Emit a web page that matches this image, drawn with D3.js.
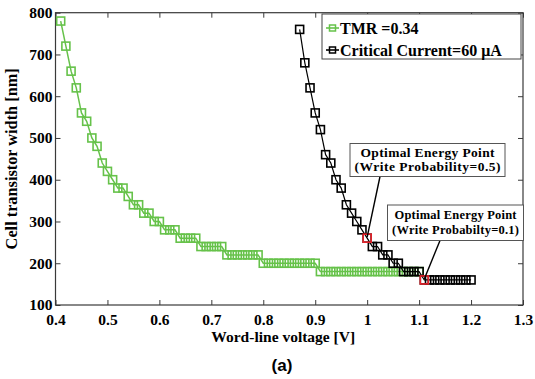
<!DOCTYPE html>
<html><head><meta charset="utf-8">
<script src="https://cdn.jsdelivr.net/npm/d3@7/dist/d3.min.js"></script>
<style>
html,body{margin:0;padding:0;background:#fff;}
svg{display:block;}
text{font-family:"Liberation Serif","Times New Roman",serif;font-weight:bold;fill:#000;}
</style></head>
<body>
<svg id="chart" width="535" height="379"></svg>
<script>
// ---- data ----
const tmrVoltage = [0.41,0.42,0.43,0.44,0.45,0.46,0.47,0.48,0.49,0.50,
  0.51,0.52,0.53,0.54,0.55,0.56,0.57,0.58,0.59,0.60,
  0.61,0.62,0.63,0.64,0.65,0.66,0.67,0.68,0.69,0.70,
  0.71,0.72,0.73,0.74,0.75,0.76,0.77,0.78,0.79,0.80,
  0.81,0.82,0.83,0.84,0.85,0.86,0.87,0.88,0.89,0.90,
  0.91,0.92,0.93,0.94,0.95,0.96,0.97,0.98,0.99,1.00,
  1.01,1.02,1.03,1.04,1.05,1.06,1.07,1.08,1.09,1.10];
const tmrWidth = [780,720,660,620,560,540,500,480,440,420,
  400,380,380,360,340,340,320,320,300,300,
  280,280,280,260,260,260,260,240,240,240,
  240,240,220,220,220,220,220,220,220,200,
  200,200,200,200,200,200,200,200,200,200,
  180,180,180,180,180,180,180,180,180,180,
  180,180,180,180,180,180,180,180,180,180];
const icVoltage = [0.87,0.88,0.89,0.90,0.91,0.92,0.93,0.94,0.95,0.96,
  0.97,0.98,0.99,1.00,1.01,1.02,1.03,1.04,1.05,1.06,
  1.07,1.08,1.09,1.10,1.11,1.12,1.13,1.14,1.15,1.16,
  1.17,1.18,1.19,1.20];
const icWidth = [760,680,620,560,520,460,440,400,380,340,
  320,300,280,260,240,240,220,220,200,200,
  180,180,180,180,160,160,160,160,160,160,
  160,160,160,160];
const optimalVoltage = [1.00, 1.11];
const optimalWidth = [260, 160];
const optimalLine1 = ["Optimal Energy Point", "Optimal Energy Point"];
const optimalLine2 = ["(Write Probability=0.5)", "(Write Probabilty=0.1)"];
const seriesNames = ["TMR =0.34", "Critical Current=60 \u03BCA"];
const xTicks = [0.4,0.5,0.6,0.7,0.8,0.9,1.0,1.1,1.2,1.3];
const yTicks = [100,200,300,400,500,600,700,800];
const xTitle = "Word-line voltage [V]";
const yTitle = "Cell transistor width [nm]";
const caption = "(a)";

// ---- drawing ----
const svg = d3.select("#chart");
const L = 55.5, R = 523, T = 12.7, B = 305;
const x = d3.scaleLinear().domain([0.4,1.3]).range([L,R]);
const y = d3.scaleLinear().domain([100,800]).range([B,T]);
const green = "#66c24a", red = "#e8222a", frameCol = "#3a3a3a";
const fmtX = d => (d === 1 ? "1" : d3.format(".1f")(d));

// axes
const gx = svg.append("g").attr("transform",`translate(0,${B})`)
  .call(d3.axisBottom(x).tickValues(xTicks).tickFormat(fmtX).tickSizeInner(-5).tickSizeOuter(0).tickPadding(9));
const gxt = svg.append("g").attr("transform",`translate(0,${T})`)
  .call(d3.axisTop(x).tickValues(xTicks).tickFormat("").tickSizeInner(-5).tickSizeOuter(0));
const gy = svg.append("g").attr("transform",`translate(${L},0)`)
  .call(d3.axisLeft(y).tickValues(yTicks).tickFormat(d3.format("d")).tickSizeInner(-5).tickSizeOuter(0).tickPadding(3));
const gyr = svg.append("g").attr("transform",`translate(${R},0)`)
  .call(d3.axisRight(y).tickValues(yTicks).tickFormat("").tickSizeInner(-5).tickSizeOuter(0));
[gx,gxt,gy,gyr].forEach(g=>{
  g.select(".domain").remove();
  g.selectAll(".tick line").attr("stroke",frameCol);
  g.selectAll("text").attr("font-size",15.5).attr("font-family","Liberation Serif").attr("font-weight","bold").attr("fill","#000");
});
svg.append("rect").attr("x",L).attr("y",T).attr("width",R-L).attr("height",B-T)
  .attr("fill","none").attr("stroke",frameCol).attr("stroke-width",1.2);

// series
function drawSeries(xs, ys, color, sw){
  const pts = xs.map((v,i)=>[v, ys[i]]);
  const line = d3.line().x(d=>x(d[0])).y(d=>y(d[1]));
  svg.append("path").datum(pts).attr("d",line).attr("fill","none")
    .attr("stroke",color).attr("stroke-width",sw);
  svg.append("g").selectAll("rect").data(pts).join("rect")
    .attr("x",d=>x(d[0])-4).attr("y",d=>y(d[1])-4).attr("width",8).attr("height",8)
    .attr("fill","none").attr("stroke",color).attr("stroke-width",1.6);
}
drawSeries(tmrVoltage, tmrWidth, green, 1.5);
drawSeries(icVoltage, icWidth, "#000", 1.2);
svg.append("g").selectAll("rect").data(optimalVoltage).join("rect")
  .attr("x",(d)=>x(d)-4).attr("y",(d,i)=>y(optimalWidth[i])-4).attr("width",8).attr("height",8)
  .attr("fill","none").attr("stroke",red).attr("stroke-width",1.6);

// annotations
const ann = [
  {x0:350, y0:143.5, w:155, h:33, fs:13.5, b1:157, b2:170.5, w1:134, w2:146, lx:380, ly:176.5},
  {x0:387.5, y0:205, w:136, h:35.5, fs:12.5, b1:218.5, b2:234, w1:122, w2:127, lx:440, ly:240.5}
];
ann.forEach((a,i)=>{
  svg.append("line").attr("x1",a.lx).attr("y1",a.ly)
    .attr("x2",x(optimalVoltage[i])).attr("y2",y(optimalWidth[i])-1)
    .attr("stroke","#000").attr("stroke-width",1.4);
  svg.append("rect").attr("x",a.x0).attr("y",a.y0).attr("width",a.w).attr("height",a.h)
    .attr("fill","#fff").attr("stroke","#555").attr("stroke-width",1);
  svg.append("text").attr("x",a.x0+a.w/2).attr("y",a.b1).attr("text-anchor","middle")
    .attr("font-size",a.fs).attr("textLength",a.w1).attr("lengthAdjust","spacing").text(optimalLine1[i]);
  svg.append("text").attr("x",a.x0+a.w/2).attr("y",a.b2).attr("text-anchor","middle")
    .attr("font-size",a.fs).attr("textLength",a.w2).attr("lengthAdjust","spacing").text(optimalLine2[i]);
});

// legend
const lg = svg.append("g");
lg.append("rect").attr("x",322).attr("y",14).attr("width",199).attr("height",45)
  .attr("fill","#fff").attr("stroke","#444").attr("stroke-width",1);
[green,"#000"].forEach((c,i)=>{
  const cy = 28 + i*22;
  lg.append("line").attr("x1",326).attr("x2",339).attr("y1",cy).attr("y2",cy).attr("stroke",c).attr("stroke-width",1.6);
  lg.append("rect").attr("x",329.5).attr("y",cy-3).attr("width",6).attr("height",6)
    .attr("fill","none").attr("stroke",c).attr("stroke-width",1.5);
  lg.append("text").attr("x",340).attr("y",cy+5.5).attr("font-size",16).text(seriesNames[i]);
});

// titles
svg.append("text").attr("x",(L+R)/2-6).attr("y",342).attr("text-anchor","middle")
  .attr("font-size",15.5).text(xTitle);
svg.append("text").attr("transform",`translate(17,${(T+B)/2}) rotate(-90)`).attr("text-anchor","middle")
  .attr("font-size",16.3).text(yTitle);
svg.append("text").attr("x",282).attr("y",371).attr("text-anchor","middle")
  .style("font-family","'Liberation Sans',Arial,sans-serif").attr("font-size",17).text(caption);
</script>
</body></html>
